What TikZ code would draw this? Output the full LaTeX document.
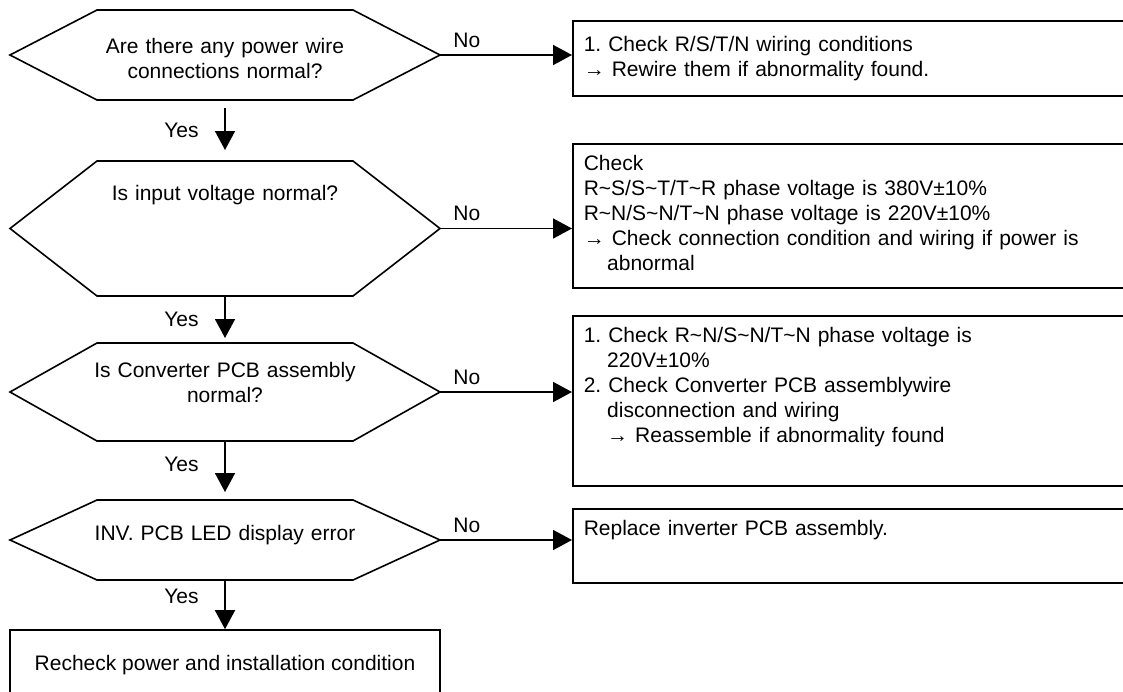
\documentclass[tikz,border=0pt]{standalone}
\usepackage{fontspec}
\setmainfont{Liberation Sans}
\usetikzlibrary{positioning, arrows.meta}
\frenchspacing
\newcommand{\tld}{\textasciitilde}
\newcommand{\ind}{\hspace*{11.7pt}}
\newcommand{\hexframe}[1]{%
  \draw[hexline] ([xshift=43.5pt]#1.north west) -- ([xshift=-43.5pt]#1.north east) -- (#1.east)
    -- ([xshift=-43.5pt]#1.south east) -- ([xshift=43.5pt]#1.south west) -- (#1.west) -- cycle;}

\begin{document}
\begin{tikzpicture}[
    x=0.5pt, y=-0.5pt,
    font=\fontsize{10.5pt}{12.5pt}\selectfont,
    decision/.style={rectangle, outer sep=0pt, inner sep=0pt, minimum width=215pt, text width=215pt, align=center, text height=8pt},
    hexline/.style={line width=0.8pt, line join=miter},
    checkbox/.style={rectangle, draw, line width=0.8pt, anchor=north west, text width=268pt, align=left, inner xsep=5.5pt, inner ysep=5.5pt, text height=8pt},
    endbox/.style={rectangle, draw, line width=0.8pt, minimum width=215pt, minimum height=35pt, align=center},
    arrow/.style={-{Triangle[length=9.5pt, width=10pt]}, line width=0.8pt},
    yeslbl/.style={left=9.5pt},
    nolbl/.style={above right, xshift=3pt, pos=0}
]
\useasboundingbox (0,0) rectangle (1123,691);
\clip (0,0) rectangle (1123,691);

% questions
\node[decision, minimum height=45pt, text depth=10pt] (q1) at (225,55) {Are there any power wire\\ connections normal?};
\node[decision, minimum height=67.5pt, text depth=36.5pt] (q2) at (225,228.5) {Is input voltage normal?};
\node[decision, minimum height=49pt, text depth=23pt] (q3) at (225,392) {Is Converter PCB assembly\\ normal?};
\node[decision, minimum height=40pt, text depth=8pt] (q4) at (225,540) {INV. PCB LED display error};
\hexframe{q1}
\hexframe{q2}
\hexframe{q3}
\hexframe{q4}

% actions
\node[checkbox, text height=10pt, text depth=16.5pt] (b1) at (572,20) {1. Check R/S/T/N wiring conditions\\ → Rewire them if abnormality found.};
\node[checkbox, text depth=53pt] (b2) at (572,143) {Check\\ R\tld S/S\tld T/T\tld R phase voltage is 380V±10\%\\ R\tld N/S\tld N/T\tld N phase voltage is 220V±10\%\\ → Check connection condition and wiring if power is\\ \ind abnormal};
\node[checkbox, text depth=66pt] (b3) at (572,315) {1. Check R\tld N/S\tld N/T\tld N phase voltage is\\ \ind 220V±10\%\\ 2. Check Converter PCB assemblywire\\ \ind disconnection and wiring\\ \ind → Reassemble if abnormality found};
\node[checkbox, text depth=18pt] (b4) at (572,508) {Replace inverter PCB assembly.};
\node[endbox] (fin) at (225,665) {Recheck power and installation condition};

% connectors
\draw[arrow] (q1.east) -- node[nolbl] {No} (q1.east -| b1.west);
\draw[arrow] (q2.east) -- node[nolbl] {No} (q2.east -| b2.west);
\draw[arrow] (q3.east) -- node[nolbl] {No} (q3.east -| b3.west);
\draw[arrow] (q4.east) -- node[nolbl] {No} (q4.east -| b4.west);
\draw[arrow, shorten <=4pt, shorten >=5.5pt] (q1) -- node[yeslbl] {Yes} (q2);
\draw[arrow, shorten >=2.5pt] (q2) -- node[yeslbl] {Yes} (q3);
\draw[arrow, shorten >=4pt] (q3) -- node[yeslbl, pos=0.4] {Yes} (q4);
\draw[arrow] (q4) -- node[yeslbl, pos=0.34] {Yes} (fin);
\end{tikzpicture}
\end{document}
